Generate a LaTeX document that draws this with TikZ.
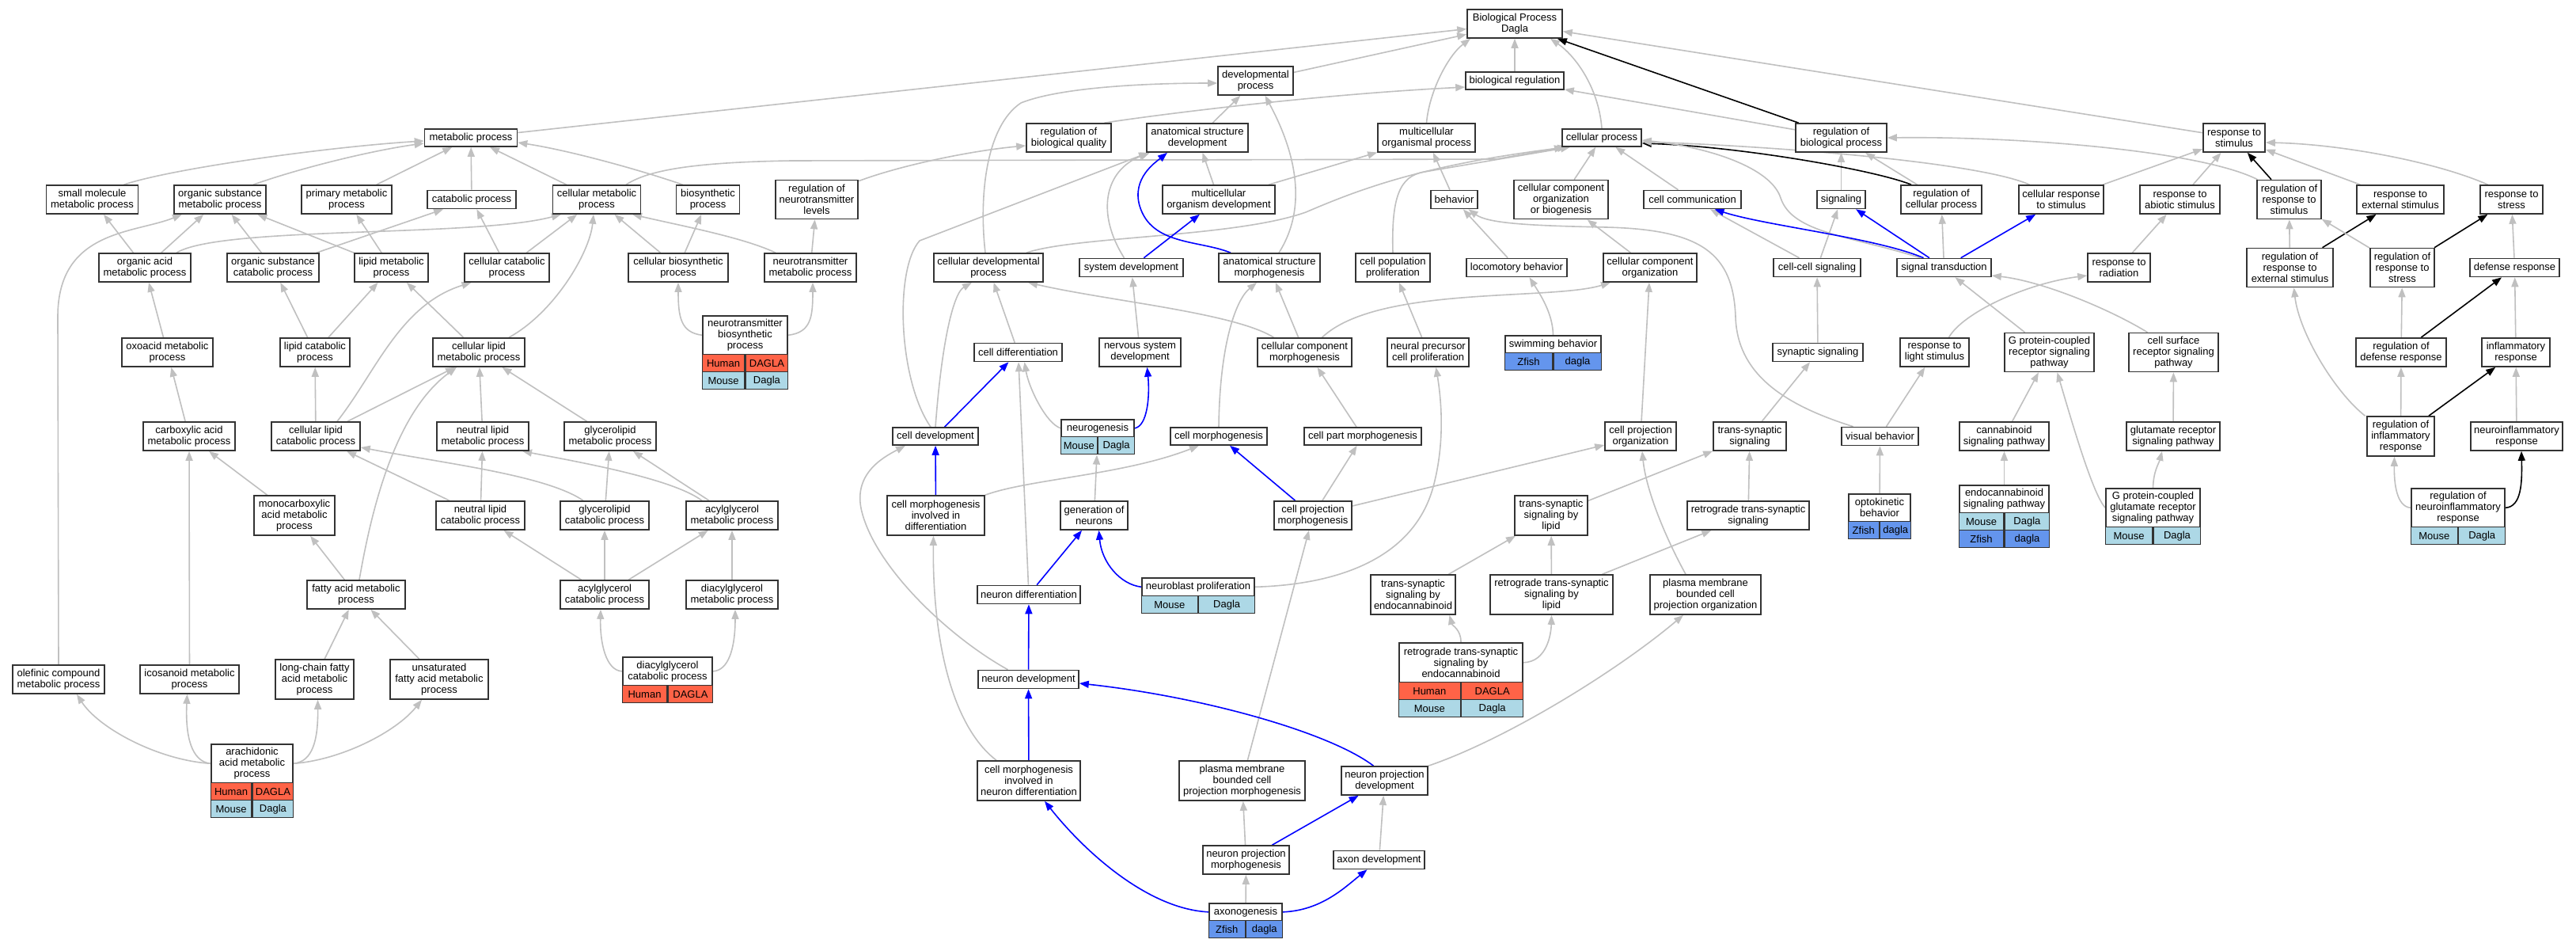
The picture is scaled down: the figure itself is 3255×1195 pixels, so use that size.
\documentclass[tikz,border=0pt]{standalone}
\usepackage{fontspec}
\setmainfont{Liberation Sans}
\usetikzlibrary{arrows.meta,fit}
\definecolor{hum}{HTML}{FF6347}
\definecolor{mou}{HTML}{ADD8E6}
\definecolor{zf}{HTML}{6495ED}
\definecolor{egray}{HTML}{C0C0C0}
\definecolor{bdr}{HTML}{333333}
\pgfdeclarelayer{back}\pgfdeclarelayer{edges}\pgfsetlayers{back,edges,main}
\tikzset{
 gobox/.style={draw=bdr, line width=1.6pt, fill=white, align=center, inner sep=0pt, font=\fontsize{13}{14}\selectfont},
 gocell/.style={draw=bdr, line width=1.4pt, inner sep=0pt, minimum height=22pt, font=\fontsize{13}{14}\selectfont},
 gofit/.style={draw=none, inner sep=0pt},
 ge/.style={draw=egray, line width=1.6pt, -{Triangle[length=12pt,width=9pt]}},
 be/.style={ge, draw=blue},
 ke/.style={ge, draw=black},
}
\newcommand\GOnode[6]{\node[gobox, minimum width=#4pt, minimum height=#5pt] (#1) at (#2,#3) {#6};}
\newcommand\GOhead[6]{\node[gobox, minimum width=#4pt, minimum height=#5pt, anchor=north] (#1-h) at (#2,#3) {#6};}
\newcommand\GOrow[7]{\node[gocell, fill=#5, minimum width=#4pt/2, anchor=north east] (#1-l) at (#2,#3) {#6};\node[gocell, fill=#5, minimum width=#4pt/2, anchor=north west] (#1-r) at (#2,#3) {#7};}
\newcommand\GOfit[2]{\node[gofit, fit=#2] (#1) {};}
\begin{document}
\begin{tikzpicture}[x=1pt,y=-1pt]
\useasboundingbox (0,0) rectangle (3255,1195);
\begin{pgfonlayer}{back}\fill[white] (0,0) rectangle (3255,1195);\end{pgfonlayer}
% ---------- nodes ----------
\GOnode{BP}{1914}{30}{120}{36}{Biological Process\\Dagla}
\GOnode{dev}{1586.5}{102}{95}{36}{developmental\\process}
\GOnode{bioreg}{1914}{102}{124}{22}{biological regulation}
\GOnode{met}{595}{174}{117}{22}{metabolic process}
\GOnode{rbq}{1350.5}{174}{107}{36}{regulation of\\biological quality}
\GOnode{asd}{1513}{174}{128}{36}{anatomical structure\\development}
\GOnode{mop}{1802.5}{174}{123}{36}{multicellular\\organismal process}
\GOnode{cp}{2024}{174}{100}{22}{cellular process}
\GOnode{rbp}{2326.5}{174}{115}{36}{regulation of\\biological process}
\GOnode{rts}{2823}{174}{78}{36}{response to\\stimulus}
%
\GOnode{smp}{116.5}{252}{116}{36}{small molecule\\metabolic process}
\GOnode{osmp}{278}{252}{116}{36}{organic substance\\metabolic process}
\GOnode{pmp}{438}{252}{114}{36}{primary metabolic\\process}
\GOnode{catp}{596}{252}{112}{23}{catabolic process}
\GOnode{cmp}{754}{252}{111}{36}{cellular metabolic\\process}
\GOnode{biop}{894.5}{252}{80}{36}{biosynthetic\\process}
\GOnode{rntl}{1032}{252}{104}{49}{regulation of\\neurotransmitter\\levels}
\GOnode{mod}{1540}{252}{142}{36}{multicellular\\organism development}
\GOnode{beh}{1837.5}{252}{59}{23}{behavior}
\GOnode{ccob}{1972.5}{252}{119}{49}{cellular component\\organization\\or biogenesis}
\GOnode{ccomm}{2138.5}{252}{123}{23}{cell communication}
\GOnode{sig}{2326.5}{252}{61}{23}{signaling}
\GOnode{rcp}{2453}{252}{102}{36}{regulation of\\cellular process}
\GOnode{crs}{2604.5}{252}{107}{36}{cellular response\\to stimulus}
\GOnode{ras}{2754.5}{252}{101}{36}{response to\\abiotic stimulus}
\GOnode{rrs}{2892.5}{252}{81}{49}{regulation of\\response to\\stimulus}
\GOnode{res}{3033}{252}{110}{36}{response to\\external stimulus}
\GOnode{rst}{3173.5}{252}{79}{36}{response to\\stress}
%
\GOnode{oamp}{183}{338}{116}{36}{organic acid\\metabolic process}
\GOnode{oscp}{345}{338}{116}{36}{organic substance\\catabolic process}
\GOnode{lmp}{494.5}{338}{93}{36}{lipid metabolic\\process}
\GOnode{ccp}{640.5}{338}{107}{36}{cellular catabolic\\process}
\GOnode{cbp}{857}{338}{126}{36}{cellular biosynthetic\\process}
\GOnode{ntmp}{1024}{338}{116}{36}{neurotransmitter\\metabolic process}
\GOnode{cdp}{1249}{338}{138}{36}{cellular developmental\\process}
\GOnode{sysd}{1429.5}{338}{131}{23}{system development}
\GOnode{asm}{1604}{338}{128}{36}{anatomical structure\\morphogenesis}
\GOnode{cpp}{1760}{338}{94}{36}{cell population\\proliferation}
\GOnode{lb}{1916.5}{338}{127}{23}{locomotory behavior}
\GOnode{cco}{2085}{338}{118}{36}{cellular component\\organization}
\GOnode{ccs}{2296}{338}{110}{23}{cell-cell signaling}
\GOnode{st}{2456.5}{338}{119}{23}{signal transduction}
\GOnode{rr}{2677.5}{338}{79}{36}{response to\\radiation}
\GOnode{rres}{2893.5}{338}{109}{49}{regulation of\\response to\\external stimulus}
\GOnode{rrst}{3035.5}{338}{81}{49}{regulation of\\response to\\stress}
\GOnode{dr}{3177.5}{338}{113}{23}{defense response}
%
\GOnode{oxmp}{211.5}{445}{115}{36}{oxoacid metabolic\\process}
\GOnode{lcp}{398}{445}{88}{36}{lipid catabolic\\process}
\GOnode{clmp}{605}{445}{116}{36}{cellular lipid\\metabolic process}
\GOhead{ntbp}{941.5}{398}{107}{49}{neurotransmitter\\biosynthetic\\process}
\GOrow{ntbp-1}{941.5}{447}{107}{hum}{Human}{DAGLA}
\GOrow{ntbp-2}{941.5}{469}{107}{mou}{Mouse}{Dagla}
\GOfit{ntbp}{(ntbp-h)(ntbp-2-l)(ntbp-2-r)}
\GOnode{cd}{1286.5}{445}{111}{23}{cell differentiation}
\GOnode{nsd}{1440.5}{445}{103}{36}{nervous system\\development}
\GOnode{ccm}{1648.5}{445}{119}{36}{cellular component\\morphogenesis}
\GOnode{npcp}{1804.5}{445}{103}{36}{neural precursor\\cell proliferation}
\GOhead{swb}{1962.5}{423}{121}{22}{swimming behavior}
\GOrow{swb-1}{1962.5}{445}{121}{zf}{Zfish}{dagla}
\GOfit{swb}{(swb-h)(swb-1-l)(swb-1-r)}
\GOnode{ss}{2297}{445}{114}{23}{synaptic signaling}
\GOnode{rls}{2444.5}{445}{87}{36}{response to\\light stimulus}
\GOnode{gpcr}{2589.5}{445}{113}{49}{G protein-coupled\\receptor signaling\\pathway}
\GOnode{csrs}{2746.5}{445}{113}{49}{cell surface\\receptor signaling\\pathway}
\GOnode{rdr}{3034}{445}{114}{36}{regulation of\\defense response}
\GOnode{ir}{3179}{445}{86}{36}{inflammatory\\response}
%
\GOnode{cam}{239}{551}{116}{36}{carboxylic acid\\metabolic process}
\GOnode{clcp}{399}{551}{112}{36}{cellular lipid\\catabolic process}
\GOnode{nlmp}{610}{551}{116}{36}{neutral lipid\\metabolic process}
\GOnode{glmp}{771}{551}{116}{36}{glycerolipid\\metabolic process}
\GOnode{cdev}{1182}{551}{108}{22}{cell development}
\GOhead{neur}{1387}{529}{92}{22}{neurogenesis}
\GOrow{neur-1}{1387}{551}{92}{mou}{Mouse}{Dagla}
\GOfit{neur}{(neur-h)(neur-1-l)(neur-1-r)}
\GOnode{cm}{1540}{551}{122}{22}{cell morphogenesis}
\GOnode{cpm}{1722}{551}{148}{22}{cell part morphogenesis}
\GOnode{cpo}{2073}{551}{90}{36}{cell projection\\organization}
\GOnode{tss}{2211}{551}{92}{36}{trans-synaptic\\signaling}
\GOnode{vb}{2375.5}{551}{97}{23}{visual behavior}
\GOnode{cnsp}{2532.5}{551}{113}{36}{cannabinoid\\signaling pathway}
\GOnode{grsp}{2746}{551}{118}{36}{glutamate receptor\\signaling pathway}
\GOnode{rir}{3033.5}{551}{85}{50}{regulation of\\inflammatory\\response}
\GOnode{nir}{3180}{551}{116}{36}{neuroinflammatory\\response}
%
\GOnode{mcam}{372}{651}{102}{50}{monocarboxylic\\acid metabolic\\process}
\GOnode{nlcp}{607}{651}{112}{36}{neutral lipid\\catabolic process}
\GOnode{glcp}{764}{651}{112}{36}{glycerolipid\\catabolic process}
\GOnode{agmp}{925}{651}{116}{36}{acylglycerol\\metabolic process}
\GOnode{cmid}{1182.5}{651}{123}{50}{cell morphogenesis\\involved in\\differentiation}
\GOnode{gon}{1382.5}{651}{85}{36}{generation of\\neurons}
\GOnode{cpjm}{1659}{651}{98}{36}{cell projection\\morphogenesis}
\GOnode{tsl}{1960}{651}{92}{50}{trans-synaptic\\signaling by\\lipid}
\GOnode{rtss}{2209}{651}{154}{36}{retrograde trans-synaptic\\signaling}
\GOhead{okb}{2375}{623}{78}{35}{optokinetic\\behavior}
\GOrow{okb-1}{2375}{658}{78}{zf}{Zfish}{dagla}
\GOfit{okb}{(okb-h)(okb-1-l)(okb-1-r)}
\GOhead{ecsp}{2532.5}{612}{113}{35}{endocannabinoid\\signaling pathway}
\GOrow{ecsp-1}{2532.5}{647}{113}{mou}{Mouse}{Dagla}
\GOrow{ecsp-2}{2532.5}{669}{113}{zf}{Zfish}{dagla}
\GOfit{ecsp}{(ecsp-h)(ecsp-2-l)(ecsp-2-r)}
\GOhead{gpcg}{2720.5}{616}{119}{49}{G protein-coupled\\glutamate receptor\\signaling pathway}
\GOrow{gpcg-1}{2720.5}{665}{119}{mou}{Mouse}{Dagla}
\GOfit{gpcg}{(gpcg-h)(gpcg-1-l)(gpcg-1-r)}
\GOhead{rnir}{3106}{616}{118}{49}{regulation of\\neuroinflammatory\\response}
\GOrow{rnir-1}{3106}{665}{118}{mou}{Mouse}{Dagla}
\GOfit{rnir}{(rnir-h)(rnir-1-l)(rnir-1-r)}
%
\GOnode{fam}{450}{751}{124}{36}{fatty acid metabolic\\process}
\GOnode{agcp}{764}{751}{112}{36}{acylglycerol\\catabolic process}
\GOnode{dgmp}{925}{751}{116}{36}{diacylglycerol\\metabolic process}
\GOnode{nd}{1300}{751}{130}{23}{neuron differentiation}
\GOhead{nbp}{1514}{729}{142}{23}{neuroblast proliferation}
\GOrow{nbp-1}{1514}{752}{142}{mou}{Mouse}{Dagla}
\GOfit{nbp}{(nbp-h)(nbp-1-l)(nbp-1-r)}
\GOnode{tse}{1785.5}{751}{107}{50}{trans-synaptic\\signaling by\\endocannabinoid}
\GOnode{rtsl}{1960.5}{751}{155}{50}{retrograde trans-synaptic\\signaling by\\lipid}
\GOnode{pmbo}{2155}{751}{140}{50}{plasma membrane\\bounded cell\\projection organization}
%
\GOnode{ocmp}{74}{858}{116}{36}{olefinic compound\\metabolic process}
\GOnode{icmp}{239.5}{858}{125}{36}{icosanoid metabolic\\process}
\GOnode{lcfa}{397.5}{858}{99}{50}{long-chain fatty\\acid metabolic\\process}
\GOnode{ufa}{555}{858}{124}{50}{unsaturated\\fatty acid metabolic\\process}
\GOhead{dgcp}{843.5}{829}{113}{36}{diacylglycerol\\catabolic process}
\GOrow{dgcp-1}{843.5}{865}{113}{hum}{Human}{DAGLA}
\GOfit{dgcp}{(dgcp-h)(dgcp-1-l)(dgcp-1-r)}
\GOnode{ndev}{1299.5}{858}{127}{23}{neuron development}
\GOhead{rtse}{1846}{811}{156}{50}{retrograde trans-synaptic\\signaling by\\endocannabinoid}
\GOrow{rtse-1}{1846}{861}{156}{hum}{Human}{DAGLA}
\GOrow{rtse-2}{1846}{883}{156}{mou}{Mouse}{Dagla}
\GOfit{rtse}{(rtse-h)(rtse-2-l)(rtse-2-r)}
%
\GOhead{aamp}{318.5}{939}{103}{49}{arachidonic\\acid metabolic\\process}
\GOrow{aamp-1}{318.5}{988}{103}{hum}{Human}{DAGLA}
\GOrow{aamp-2}{318.5}{1010}{103}{mou}{Mouse}{Dagla}
\GOfit{aamp}{(aamp-h)(aamp-2-l)(aamp-2-r)}
\GOnode{cmind}{1300}{986}{130}{50}{cell morphogenesis\\involved in\\neuron differentiation}
\GOnode{pmbm}{1569.5}{986}{159}{50}{plasma membrane\\bounded cell\\projection morphogenesis}
\GOnode{npd}{1749.5}{986}{109}{36}{neuron projection\\development}
\GOnode{npm}{1574.5}{1086}{109}{36}{neuron projection\\morphogenesis}
\GOnode{axd}{1742.5}{1086}{115}{23}{axon development}
\GOhead{axg}{1574}{1140}{92}{22}{axonogenesis}
\GOrow{axg-1}{1574}{1162}{92}{zf}{Zfish}{dagla}
\GOfit{axg}{(axg-h)(axg-1-l)(axg-1-r)}
% ---------- edges ----------
\begin{pgfonlayer}{edges}
\draw[ge] (met) -- (BP);
\draw[ge] (dev) -- (BP);
\draw[ge] (mop.north) .. controls (1806,115) and (1830,70) .. ([xshift=-56pt]BP.south);
\draw[ge] (bioreg) -- (BP);
\draw[ge] (cp.north) .. controls (2020,110) and (1990,70) .. ([xshift=45pt]BP.south);
\draw[ke] (rbp) -- (BP);
\draw[ge] (rts) -- (BP);
\draw[ge] ([xshift=45pt]rbq.north) .. controls (1440,148) and (1650,120) .. ([yshift=-8pt]bioreg.west);
\draw[ge] (rbp) -- (bioreg);
\draw[ge] (sig) -- (rbp);
\draw[ge] (rcp) -- (rbp);
\draw[ge] ([xshift=-40pt]rrs.north) .. controls (2780,190) and (2550,172) .. (rbp.east);
\draw[ke] ([xshift=-38pt]rcp.north) .. controls (2370,215) and (2200,185) .. ([yshift=-7pt]cp.east);
\draw[ge] ([xshift=-40pt]crs.north) .. controls (2500,205) and (2250,185) .. ([yshift=-5pt]cp.east);
\draw[ge] ([xshift=-30pt]st.north) .. controls (2340,298) and (2265,295) .. (2250,250) .. controls (2238,212) and (2160,186) .. ([yshift=-3pt]cp.east);
\draw[ge] (ccomm) -- (cp);
\draw[ge] (ccob) -- (cp);
\draw[ge] (cpp.north) .. controls (1758,250) and (1768,222) .. (1800,217) -- ([xshift=-40pt]cp.south);
\draw[ge] ([xshift=48pt]cdp.north) .. controls (1360,298) and (1560,300) .. (1650,268) .. controls (1720,238) and (1800,208) .. ([xshift=-44pt]cp.south);
\draw[ge] ([xshift=37pt]cmp.north) .. controls (815,218) and (860,205) .. (1000,203) -- (1890,201) -- ([xshift=-48pt]cp.south);
% metabolic
\draw[ge] ([xshift=40pt]smp.north) .. controls (220,212) and (420,185) .. ([yshift=-4pt]met.west);
\draw[ge] ([xshift=42pt]osmp.north) .. controls (380,212) and (470,190) .. ([yshift=-7pt]met.west);
\draw[ge] (pmp) -- (met);
\draw[ge] (catp) -- (met);
\draw[ge] (cmp) -- (met);
\draw[ge] ([xshift=-32pt]biop.north) .. controls (810,215) and (720,190) .. ([yshift=-6pt]met.east);
\draw[ge] (oamp) -- (smp);
\draw[ge] (oamp) -- (osmp);
\draw[ge] ([xshift=40pt]oamp.north) .. controls (280,285) and (600,300) .. ([xshift=-45pt]cmp.south);
\draw[ge] (oscp) -- (osmp);
\draw[ge] (lmp) -- (osmp);
\draw[ge] (oscp) -- (catp);
\draw[ge] (lmp) -- (pmp);
\draw[ge] (ccp) -- (catp);
\draw[ge] (ccp) -- (cmp);
\draw[ge] ([xshift=38pt]clmp.north) .. controls (700,395) and (745,320) .. ([xshift=-4pt]cmp.south);
\draw[ge] (cbp) -- (cmp);
\draw[ge] ([xshift=-44pt]ntmp.north) .. controls (940,300) and (860,285) .. ([xshift=45pt]cmp.south);
\draw[ge] (cbp) -- (biop);
\draw[ge] (ntmp) -- (rntl);
\draw[ge] ([yshift=-2pt]rntl.north east) .. controls (1140,208) and (1230,190) .. ([yshift=-10pt]rbq.west);
\draw[ge] (lcp) -- (oscp);
\draw[ge] (lcp) -- (lmp);
\draw[ge] (clmp) -- (lmp);
\draw[ge] (oxmp) -- (oamp);
\draw[ge] ([xshift=27pt]clcp.north) .. controls (475,470) and (505,385) .. ([xshift=-45pt]ccp.south);
\draw[ge] (clcp) -- (lcp);
\draw[ge] ([xshift=40pt]clcp.north) -- ([xshift=-30pt]clmp.south);
\draw[ge] ([xshift=4pt]fam.north) .. controls (470,640) and (500,520) .. ([xshift=-28pt]clmp.south);
\draw[ge] (nlmp) -- (clmp);
\draw[ge] (glmp) -- (clmp);
\draw[ge] (cam) -- (oxmp);
\draw[ge] (mcam) -- (cam);
\draw[ge] (icmp) -- (cam);
\draw[ge] (ocmp.north) -- (73,400) .. controls (73,290) and (170,295) .. ([xshift=-48pt]osmp.south);
\draw[ge] (nlcp) -- (clcp);
\draw[ge] ([xshift=-27pt]glcp.north) .. controls (690,600) and (560,585) .. ([yshift=-14pt]clcp.east);
\draw[ge] (nlcp) -- (nlmp);
\draw[ge] ([xshift=-38pt]agmp.north) .. controls (850,605) and (740,585) .. ([xshift=50pt]nlmp.south);
\draw[ge] (glcp) -- (glmp);
\draw[ge] (agmp) -- (glmp);
\draw[ge] (agcp) -- (nlcp);
\draw[ge] (agcp) -- (glcp);
\draw[ge] (agcp) -- (agmp);
\draw[ge] (dgmp) -- (agmp);
\draw[ge] (dgcp-h.west) .. controls (765,847) and (758,810) .. ([xshift=-5pt]agcp.south);
\draw[ge] (dgcp-h.east) .. controls (920,847) and (929,820) .. ([xshift=4pt]dgmp.south);
\draw[ge] (fam) -- (mcam);
\draw[ge] (lcfa) -- (fam);
\draw[ge] (ufa) -- (fam);
\draw[ge] (aamp-h.west) .. controls (200,960) and (125,920) .. ([xshift=23pt]ocmp.south);
\draw[ge] (aamp-h.west) .. controls (242,962) and (234,930) .. ([xshift=-3pt]icmp.south);
\draw[ge] (aamp-h.east) .. controls (395,962) and (402,935) .. ([xshift=4pt]lcfa.south);
\draw[ge] (aamp-h.east) .. controls (430,960) and (500,925) .. ([xshift=-22pt]ufa.south);
\draw[ge] (ntbp-h.west) .. controls (860,420) and (857,400) .. (cbp.south);
\draw[ge] (ntbp-h.east) .. controls (1025,420) and (1027,400) .. ([xshift=3pt]ntmp.south);
% development
\draw[ge] (asd) -- (dev);
\draw[ge] ([xshift=12pt]asm.north) .. controls (1660,250) and (1625,170) .. ([xshift=12pt]dev.south);
\draw[ge] ([xshift=-4pt]cdp.north) .. controls (1237,250) and (1245,160) .. (1290,130) .. controls (1340,110) and (1450,105) .. ([yshift=-3pt]dev.west);
\draw[ge] (mod) -- (asd);
\draw[ge] ([xshift=-9pt]sysd.north) .. controls (1385,270) and (1395,215) .. ([xshift=-60pt]asd.south);
\draw[be] ([xshift=-49pt]asm.north) .. controls (1515,303) and (1455,310) .. (1440,260) .. controls (1430,225) and (1460,205) .. ([xshift=-38pt]asd.south);
\draw[ge] ([xshift=-6pt]cdev.north) .. controls (1135,480) and (1130,340) .. (1162,304) -- ([xshift=-62pt]asd.south);
\draw[be] (sysd) -- (mod);
\draw[ge] (mod) -- (mop);
\draw[ge] (beh) -- (mop);
\draw[ge] (nsd) -- (sysd);
\draw[be] (neur-h.east) .. controls (1450,538) and (1453,500) .. ([xshift=9pt]nsd.south);
\draw[be] (cdev) -- (cd);
\draw[ge] (nd) -- (cd);
\draw[ge] (neur-h.west) .. controls (1322,535) and (1300,490) .. ([xshift=8pt]cd.south);
\draw[ge] (cd) -- (cdp);
\draw[ge] (cdev.north) .. controls (1190,430) and (1205,370) .. ([xshift=-21pt]cdp.south);
\draw[ge] ([xshift=-39pt]ccm.north) .. controls (1560,395) and (1400,380) .. ([xshift=50pt]cdp.south);
\draw[ge] (ccm) -- (asm);
\draw[ge] ([xshift=22pt]ccm.north) .. controls (1740,360) and (1960,380) .. ([xshift=-50pt]cco.south);
\draw[ge] (cm.north) .. controls (1541,440) and (1560,380) .. ([xshift=-16pt]asm.south);
\draw[be] (cpjm) -- (cm);
\draw[ge] (cmid.north east) .. controls (1300,605) and (1420,600) .. ([xshift=-25pt]cm.south);
\draw[ge] (cpjm) -- (cpm);
\draw[ge] ([xshift=-8pt]cpm.north) -- ([xshift=16pt]ccm.south);
\draw[ge] (cpjm) -- (cpo);
\draw[ge] (pmbm) -- (cpjm);
\draw[ge] (gon) -- (neur);
\draw[be] (nd) -- (gon);
\draw[be] (nbp-h.west) .. controls (1415,738) and (1392,710) .. ([xshift=6pt]gon.south);
\draw[ge] (nbp-h.east) .. controls (1700,738) and (1790,700) .. (1812,611) .. controls (1825,560) and (1822,510) .. ([xshift=10pt]npcp.south);
\draw[ge] (npcp) -- (cpp);
\draw[be] (cmid) -- (cdev);
\draw[ge] ([xshift=-41pt]cmind.north) .. controls (1200,915) and (1178,800) .. ([xshift=-3pt]cmid.south);
\draw[be] (cmind) -- (ndev);
\draw[be] (ndev) -- (nd);
\draw[ge] ([xshift=-26pt]ndev.north) .. controls (1200,805) and (1110,720) .. (1090,650) .. controls (1075,600) and (1115,578) .. ([xshift=-38pt]cdev.south);
\draw[be] ([xshift=-14pt]npd.north) .. controls (1680,925) and (1520,880) .. ([yshift=-5pt]ndev.east);
\draw[ge] (npd.north east) .. controls (1900,935) and (2040,850) .. ([xshift=-28pt]pmbo.south);
\draw[ge] (npm) -- (pmbm);
\draw[be] (npm) -- (npd);
\draw[ge] (axd) -- (npd);
\draw[be] (axg-h.west) .. controls (1450,1148) and (1370,1075) .. ([xshift=20pt]cmind.south);
\draw[ge] (axg) -- (npm);
\draw[be] (axg-h.east) .. controls (1670,1150) and (1700,1120) .. ([xshift=-15pt]axd.south);
% right part
\draw[ge] ([xshift=-25pt]pmbo.north) .. controls (2105,680) and (2080,620) .. ([xshift=2pt]cpo.south);
\draw[ge] (cpo) -- (cco);
\draw[ge] (cco) -- (ccob);
\draw[ge] (lb) -- (beh);
\draw[ge] (swb.north) .. controls (1962,395) and (1945,370) .. ([xshift=16pt]lb.south);
\draw[ge] ([xshift=-34pt]vb.north) .. controls (2250,510) and (2195,470) .. (2193,400) .. controls (2190,320) and (2150,290) .. (2030,287) .. controls (1930,285) and (1880,282) .. ([xshift=18pt]beh.south);
\draw[ge] (okb) -- (vb);
\draw[ge] (vb) -- (rls);
\draw[ge] (ccs) -- (ccomm);
\draw[ge] (ccs) -- (sig);
\draw[be] ([xshift=-26pt]st.north) .. controls (2370,300) and (2230,285) .. ([xshift=28pt]ccomm.south);
\draw[be] (st) -- (sig);
\draw[ge] (st) -- (rcp);
\draw[be] (st) -- (crs);
\draw[ge] (ss) -- (ccs);
\draw[ge] (tss) -- (ss);
\draw[ge] ([xshift=18pt]rls.north) .. controls (2480,395) and (2560,358) .. ([yshift=-10pt]rr.west);
\draw[ge] (rr) -- (ras);
\draw[ge] ([xshift=-31pt]gpcr.north) -- ([xshift=14pt]st.south);
\draw[ge] ([xshift=-33pt]csrs.north) .. controls (2665,390) and (2580,355) .. ([yshift=-10pt]st.east);
\draw[ge] (crs) -- (rts);
\draw[ge] (ras) -- (rts);
\draw[ke] (rrs) -- (rts);
\draw[ge] (res) -- (rts);
\draw[ge] ([xshift=-30pt]rst.north) .. controls (3080,205) and (2960,182) .. ([yshift=-6pt]rts.east);
\draw[ge] (rres) -- (rrs);
\draw[ke] (rres) -- (res);
\draw[ge] (rrst) -- (rrs);
\draw[ke] (rrst) -- (rst);
\draw[ge] (dr) -- (rst);
\draw[ge] (rdr) -- (rrst);
\draw[ke] (rdr) -- (dr);
\draw[ge] (ir) -- (dr);
\draw[ge] ([xshift=-45pt]rir.north) .. controls (2950,495) and (2905,420) .. ([xshift=5pt]rres.south);
\draw[ge] (rir) -- (rdr);
\draw[ke] (rir) -- (ir);
\draw[ge] (nir) -- (ir);
\draw[ge] (rnir-h.west) .. controls (3028,640) and (3025,610) .. ([xshift=-8pt]rir.south);
\draw[ke] (rnir-h.east) .. controls (3186,640) and (3187,610) .. ([xshift=6pt]nir.south);
\draw[ge] (cnsp) -- (gpcr);
\draw[ge] (ecsp) -- (cnsp);
\draw[ge] (grsp) -- (csrs);
\draw[ge] (gpcg.north) .. controls (2721,595) and (2728,585) .. ([xshift=-14pt]grsp.south);
\draw[ge] (gpcg-h.west) .. controls (2645,625) and (2620,540) .. ([xshift=10pt]gpcr.south);
\draw[ge] (tsl) -- (tss);
\draw[ge] (rtss) -- (tss);
\draw[ge] (tse) -- (tsl);
\draw[ge] (rtsl) -- (tsl);
\draw[ge] (rtsl) -- (rtss);
\draw[ge] (rtse.north) .. controls (1846,795) and (1835,790) .. ([xshift=46pt]tse.south);
\draw[ge] (rtse-h.east) .. controls (1955,836) and (1960,800) .. (rtsl.south);
\end{pgfonlayer}
\end{tikzpicture}
\end{document}
